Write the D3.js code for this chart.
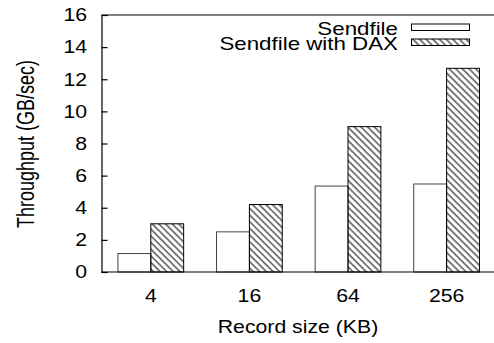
<!DOCTYPE html>
<html lang="en">
<head>
    <title>Sendfile throughput</title>
    <script src="https://d3js.org/d3.v7.min.js"></script>
    <style>
        body { margin: 0; background: #fff; }
        text { font-family: "Liberation Sans", Arial, sans-serif; fill: #000; }
    </style>
</head>
<body>
<svg id="g1"></svg>
<script>
    // data
    let sizes = ["4", "16", "64", "256"];
    let sendfile = [1.15, 2.5, 5.35, 5.48];
    let sendfileDax = [3.0, 4.2, 9.05, 12.68];
    let yTicks = [0, 2, 4, 6, 8, 10, 12, 14, 16];
    let seriesNames = ["Sendfile", "Sendfile with DAX"];

    let width = 494, height = 343;
    let margin = {top: 15, left: 101.5, bottom: 272};
    let sx = 1.18; // text in the picture is stretched sideways

    let svg = d3.select("#g1")
        .attr("width", width)
        .attr("height", height);

    let defs = svg.append("defs");
    defs.append("pattern")
        .attr("id", "hatch")
        .attr("patternUnits", "userSpaceOnUse")
        .attr("width", 4.7)
        .attr("height", 10)
        .attr("patternTransform", "rotate(-45)")
        .append("line")
            .attr("x1", 1).attr("y1", 0)
            .attr("x2", 1).attr("y2", 10)
            .attr("stroke", "#000")
            .attr("stroke-width", 1);

    let x = d3.scaleBand()
        .domain(sizes)
        .range([margin.left, margin.left + 4 * 98.6])
        .padding(0);

    let y = d3.scaleLinear()
        .domain([0, 16])
        .range([margin.bottom, margin.top]);

    let barW = x.bandwidth() / 3;

    let bars = svg.append("g").attr("id", "bars");
    bars.selectAll(".plain")
        .data(sizes)
        .enter().append("rect")
            .attr("class", "plain")
            .attr("x", d => x(d) + x.bandwidth() / 2 - barW)
            .attr("y", (d, i) => y(sendfile[i]))
            .attr("width", barW)
            .attr("height", (d, i) => y(0) - y(sendfile[i]))
            .attr("fill", "#fff")
            .attr("stroke", "#444")
            .attr("stroke-width", 1);

    bars.selectAll(".dax")
        .data(sizes)
        .enter().append("rect")
            .attr("class", "dax")
            .attr("x", d => x(d) + x.bandwidth() / 2)
            .attr("y", (d, i) => y(sendfileDax[i]))
            .attr("width", barW)
            .attr("height", (d, i) => y(0) - y(sendfileDax[i]))
            .attr("fill", "url(#hatch)")
            .attr("stroke", "#000")
            .attr("stroke-width", 1);

    // frame: top, left and bottom lines
    let frame = svg.append("g").attr("stroke", "#000").attr("stroke-width", 1.2);
    frame.append("line").attr("x1", margin.left).attr("x2", width).attr("y1", margin.top).attr("y2", margin.top);
    frame.append("line").attr("x1", margin.left).attr("x2", width).attr("y1", margin.bottom).attr("y2", margin.bottom);

    // y axis with inward ticks
    let yAxis = svg.append("g")
        .attr("transform", `translate(${margin.left},0)`)
        .call(d3.axisRight(y).tickValues(yTicks).tickSize(6).tickFormat(""));
    yAxis.select(".domain").attr("stroke-width", 1.2);
    yAxis.selectAll(".tick line").attr("stroke-width", 1.2);

    svg.append("g").selectAll("text")
        .data(yTicks)
        .enter().append("text")
            .attr("transform", d => `translate(87,${y(d) + 6.3}) scale(${sx},1)`)
            .attr("text-anchor", "end")
            .attr("font-size", 18)
            .text(d => d);

    svg.append("g").selectAll("text")
        .data(sizes)
        .enter().append("text")
            .attr("transform", d => `translate(${x(d) + x.bandwidth() / 2},301.5) scale(${sx},1)`)
            .attr("text-anchor", "middle")
            .attr("font-size", 18)
            .text(d => d);

    svg.append("text")
        .attr("transform", `translate(298,333) scale(${sx},1)`)
        .attr("text-anchor", "middle")
        .attr("font-size", 18)
        .text("Record size (KB)");

    svg.append("text")
        .attr("transform", `translate(34,144) scale(1.28,1) rotate(-90)`)
        .attr("text-anchor", "middle")
        .attr("font-size", 18)
        .text("Throughput (GB/sec)");

    // legend
    let legend = svg.append("g").attr("id", "legend");
    let fills = ["#fff", "url(#hatch)"];
    seriesNames.forEach((name, i) => {
        let base = 35 + i * 15;
        legend.append("text")
            .attr("transform", `translate(398,${base}) scale(1.24,1)`)
            .attr("text-anchor", "end")
            .attr("font-size", 18)
            .text(name);
        legend.append("rect")
            .attr("x", 411.5)
            .attr("y", base - 11)
            .attr("width", 58)
            .attr("height", 6.5)
            .attr("fill", fills[i])
            .attr("stroke", "#000")
            .attr("stroke-width", 1);
    });
</script>
</body>
</html>
